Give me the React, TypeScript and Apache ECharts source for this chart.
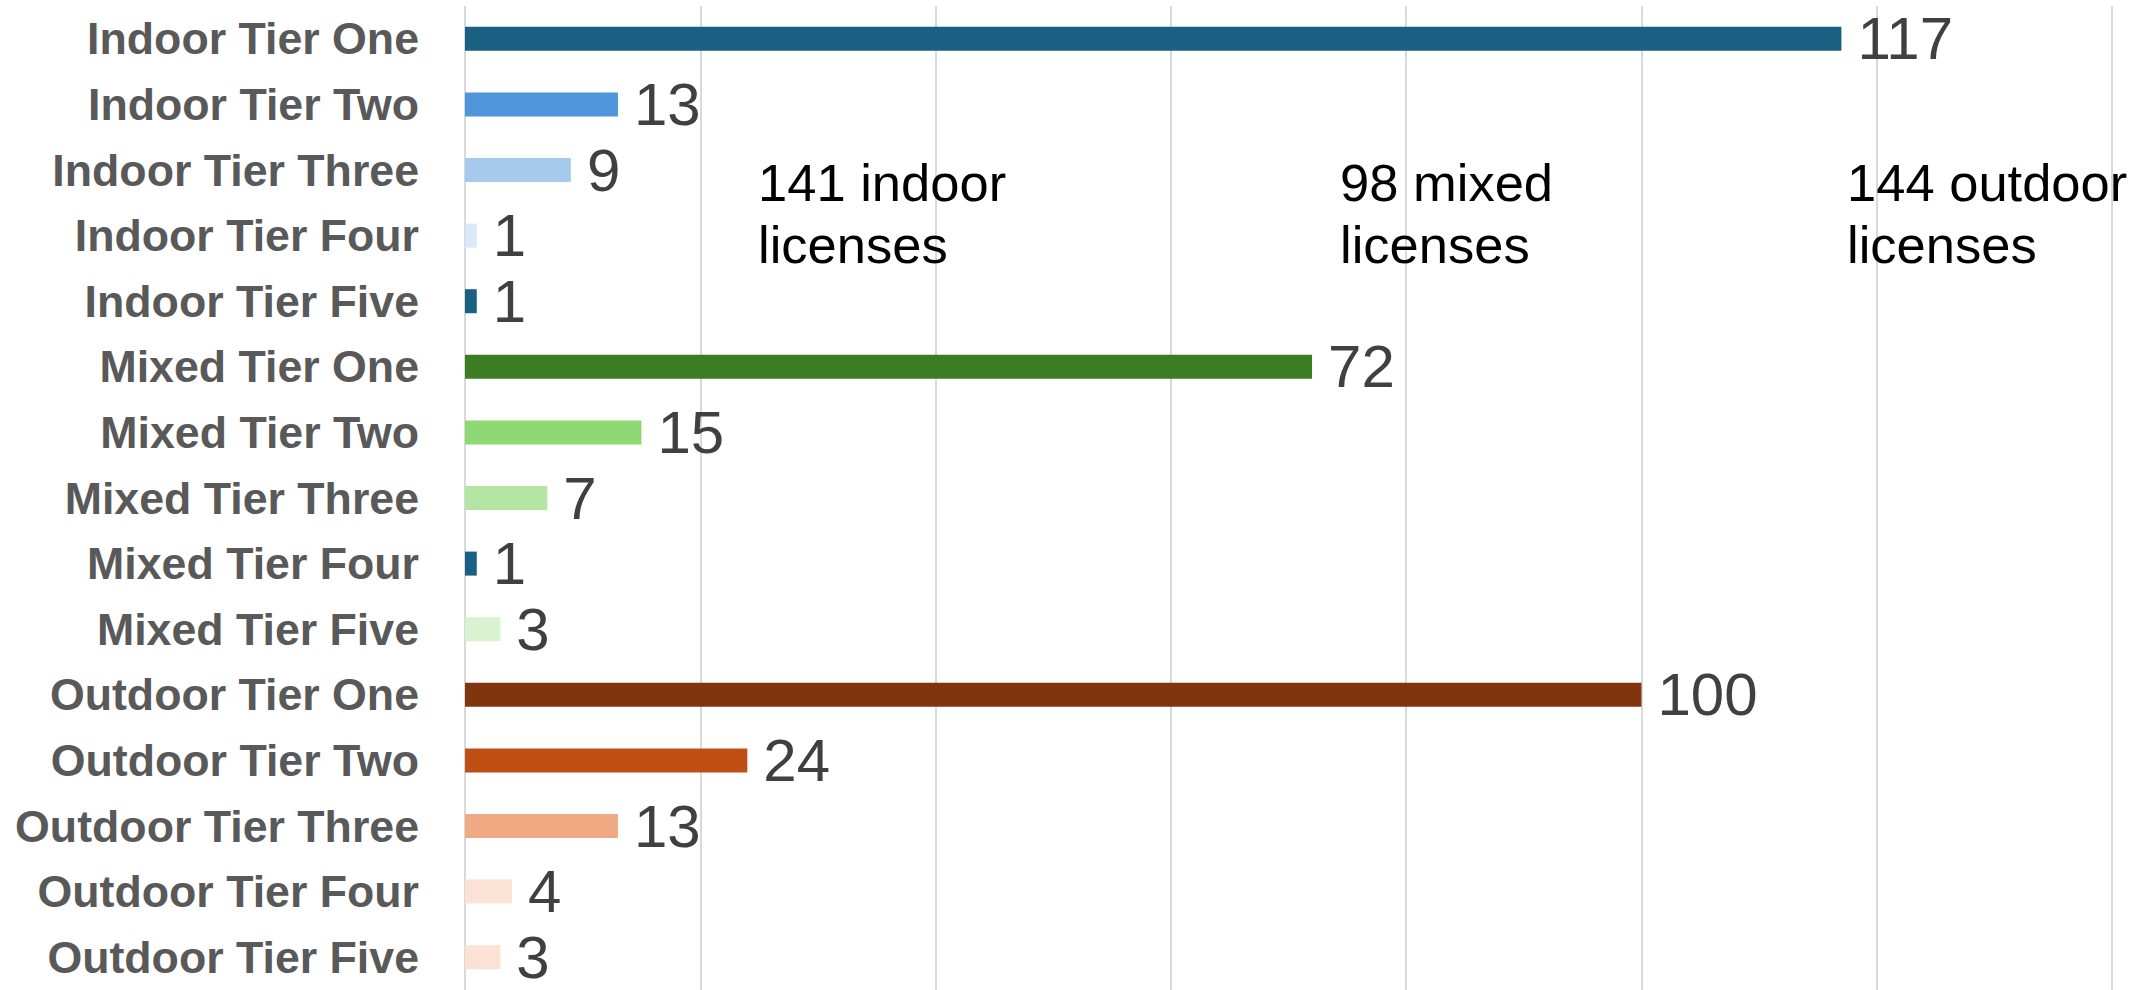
import React, { useEffect, useRef } from "react";
import * as echarts from "echarts";

const categories = [
  "Indoor Tier One",
  "Indoor Tier Two",
  "Indoor Tier Three",
  "Indoor Tier Four",
  "Indoor Tier Five",
  "Mixed Tier One",
  "Mixed Tier Two",
  "Mixed Tier Three",
  "Mixed Tier Four",
  "Mixed Tier Five",
  "Outdoor Tier One",
  "Outdoor Tier Two",
  "Outdoor Tier Three",
  "Outdoor Tier Four",
  "Outdoor Tier Five",
];

const licenseCounts = [117, 13, 9, 1, 1, 72, 15, 7, 1, 3, 100, 24, 13, 4, 3];

const annotations = [
  "141 indoor\nlicenses",
  "98 mixed\nlicenses",
  "144 outdoor\nlicenses",
];

const barColors = [
  "#1a6082", "#4e95d9", "#a6caec", "#dae9f8", "#1a6082",
  "#3b7d23", "#8ed973", "#b4e5a2", "#1a6082", "#d9f2d0",
  "#80350e", "#c04f15", "#f1a983", "#fbe2d5", "#fbe2d5",
];

const annotationX = [758, 1340, 1847];

export default function App() {
  const ref = useRef<HTMLDivElement>(null);

  useEffect(() => {
    if (!ref.current) return;
    const chart = echarts.init(ref.current, undefined, { renderer: "svg" });
    const font = "'Liberation Sans', Arial, sans-serif";
    chart.setOption({
      animation: false,
      backgroundColor: "#ffffff",
      grid: { left: 465, top: 6, width: 1647, height: 989, containLabel: false },
      xAxis: {
        type: "value",
        min: 0,
        max: 140,
        interval: 20,
        axisLabel: { show: false },
        axisLine: { show: false },
        axisTick: { show: false },
        splitLine: { show: true, lineStyle: { color: "#d9d9d9", width: 2 } },
      },
      yAxis: {
        type: "category",
        inverse: true,
        data: categories,
        axisLine: { show: false },
        axisTick: { show: false },
        axisLabel: {
          margin: 46,
          fontSize: 44.7,
          fontWeight: "bold",
          color: "#595959",
          fontFamily: font,
        },
      },
      series: [
        {
          type: "bar",
          barWidth: 24,
          data: licenseCounts.map((v, i) => ({
            value: v,
            itemStyle: { color: barColors[i] },
          })),
          label: {
            show: true,
            position: "right",
            distance: 16,
            fontSize: 60,
            color: "#404040",
            fontFamily: font,
          },
        },
      ],
      graphic: annotations.map((t, i) => ({
        type: "text",
        x: annotationX[i],
        y: 213,
        z: 10,
        style: {
          text: t,
          fill: "#000000",
          fontSize: 52.5,
          fontFamily: font,
          lineHeight: 62,
          align: "left",
          verticalAlign: "middle",
        },
      })),
    });
    return () => chart.dispose();
  }, []);

  return (
    <div
      ref={ref}
      style={{ position: "absolute", left: 0, top: 0, width: 2153, height: 990 }}
    />
  );
}
